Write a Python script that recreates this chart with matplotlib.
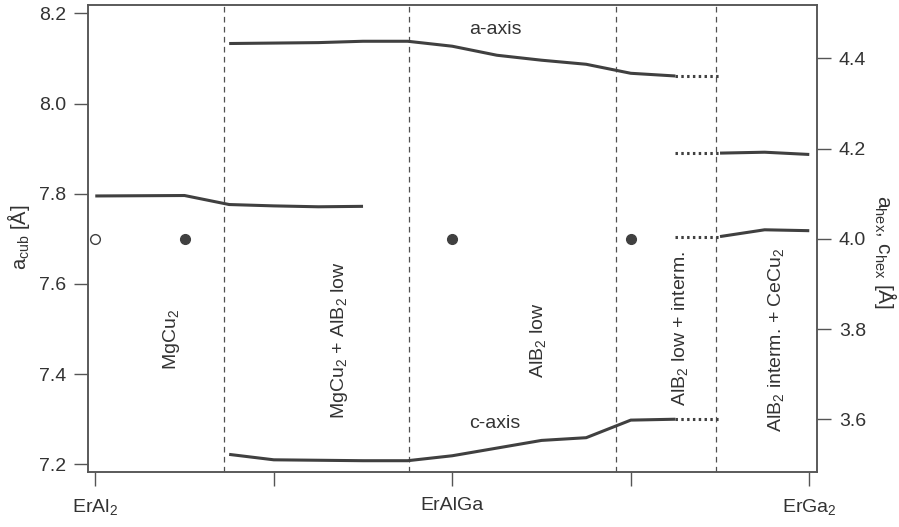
import matplotlib
matplotlib.use("Agg")
import matplotlib.pyplot as plt

plt.rcParams['font.family'] = ['Liberation Sans', 'DejaVu Sans']
plt.rcParams['mathtext.default'] = 'regular'

# ---- data (x = Ga fraction, 0 = ErAl2, 1 = ErGa2) ----
cub_x = [0.0, 0.125, 0.1875, 0.25, 0.3125, 0.375]
cub_a = [7.795, 7.796, 7.776, 7.773, 7.771, 7.772]

hex_low_x = [0.1875, 0.25, 0.3125, 0.375, 0.4375, 0.5, 0.5625, 0.625, 0.6875, 0.75, 0.8125]
hex_low_a = [4.433, 4.434, 4.435, 4.438, 4.438, 4.427, 4.407, 4.396, 4.387, 4.367, 4.361]
hex_low_c = [3.522, 3.510, 3.509, 3.508, 3.508, 3.519, 3.536, 3.553, 3.559, 3.598, 3.600]

hex_int_x = [0.875, 0.9375, 1.0]
hex_int_a = [4.190, 4.192, 4.187]
hex_int_c = [4.005, 4.020, 4.018]

# extrapolated (dotted) segments
dot_x = [0.8125, 0.875]
dot_a_low = [4.361, 4.361]
dot_c_low = [3.600, 3.600]
dot_a_int = [4.190, 4.190]
dot_c_int = [4.005, 4.005]

open_pt_x = [0.0]
filled_pt_x = [0.125, 0.5, 0.75]
pt_y = 7.7

boundaries = [0.18, 0.44, 0.729, 0.87]

x_ticks = [0.0, 0.25, 0.5, 0.75, 1.0]
x_ticklabels = ['ErAl$_2$', '', 'ErAlGa', '', 'ErGa$_2$']
left_ticks = [7.2, 7.4, 7.6, 7.8, 8.0, 8.2]
right_ticks = [3.6, 3.8, 4.0, 4.2, 4.4]

phase_labels = ['MgCu$_2$', 'MgCu$_2$ + AlB$_2$ low', 'AlB$_2$ low',
                'AlB$_2$ low + interm.', 'AlB$_2$ interm. + CeCu$_2$']
phase_x = [0.107, 0.342, 0.620, 0.819, 0.954]
phase_y = [7.476, 7.476, 7.476, 7.502, 7.476]

# ---- style ----
LC = '#404040'
TC = '#333333'
FS = 14

fig = plt.figure(figsize=(8.99, 5.27), dpi=100)
ax = fig.add_axes([88/899, 1-472.3/527, 728.7/899, 467.3/527])
ax2 = ax.twinx()

ax.set_xlim(-0.0102, 1.0104)
ax.set_ylim(7.1823, 8.2184)
ax2.set_ylim(3.4823, 4.5184)

for b in boundaries:
    ax.axvline(b, color='#505050', lw=0.9, dashes=(4.5, 3.5), zorder=1)

ax.plot(cub_x, cub_a, color=LC, lw=2.2, solid_capstyle='butt', zorder=3)
ax.plot(open_pt_x, [pt_y], 'o', ms=7, mfc='white', mec=LC, mew=1.0, zorder=4)
ax.plot(filled_pt_x, [pt_y]*len(filled_pt_x), 'o', ms=7, mfc=LC, mec=LC, zorder=4)

for y in (hex_low_a, hex_low_c):
    ax2.plot(hex_low_x, y, color=LC, lw=2.2, solid_capstyle='butt', zorder=3)
for y in (hex_int_a, hex_int_c):
    ax2.plot(hex_int_x, y, color=LC, lw=2.2, solid_capstyle='butt', zorder=3)
for y in (dot_a_low, dot_c_low, dot_a_int, dot_c_int):
    ax2.plot(dot_x, y, color=LC, lw=2.2, linestyle=(0, (0.8, 1.1)), zorder=3)

ax2.text(0.56, 4.464, 'a-axis', ha='center', va='center', fontsize=FS, color=TC)
ax2.text(0.56, 3.591, 'c-axis', ha='center', va='center', fontsize=FS, color=TC)

for lab, px, py in zip(phase_labels, phase_x, phase_y):
    ax.text(px, py, lab, rotation=90, ha='center', va='center', fontsize=FS, color=TC)

# axes styling
for a in (ax, ax2):
    for s in a.spines.values():
        s.set_color('#555555')
        s.set_linewidth(1.1)

ax.set_xticks(x_ticks)
ax.set_xticklabels(x_ticklabels)
ax.set_yticks(left_ticks)
ax.set_yticklabels([f'{v:.1f}' for v in left_ticks])
ax2.set_yticks(right_ticks)
ax2.set_yticklabels([f'{v:.1f}' for v in right_ticks])

ax.tick_params(axis='x', length=10, width=1.0, color='#555555', pad=8,
               labelsize=FS, labelcolor=TC)
ax.tick_params(axis='y', length=10, width=1.0, color='#555555', pad=6,
               labelsize=FS, labelcolor=TC)
ax2.tick_params(axis='y', length=10, width=1.0, color='#555555', pad=6,
                labelsize=FS, labelcolor=TC)

fig.text(18/899, 1-237/527, 'a$_{cub}$ [Å]', rotation=90, ha='center', va='center',
         fontsize=14.5, color=TC)
fig.text(886/899, 1-252/527, 'a$_{hex}$, c$_{hex}$ [Å]', rotation=270, ha='center',
         va='center', fontsize=15, color=TC)

fig.savefig('out.png', dpi=100)
